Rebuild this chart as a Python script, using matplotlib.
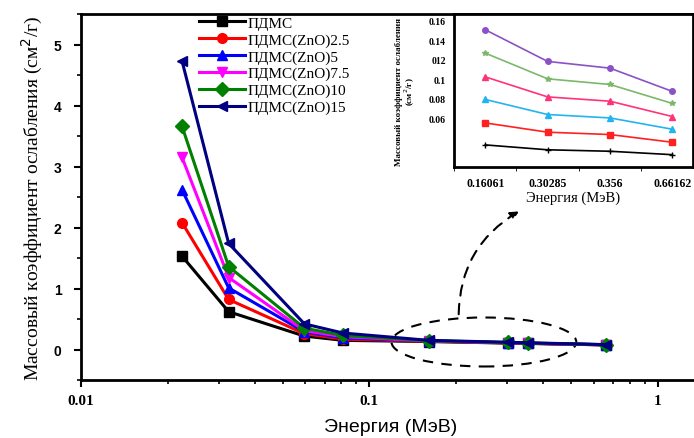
import matplotlib
matplotlib.use("Agg")
import matplotlib.pyplot as plt
from matplotlib.patches import Ellipse
from matplotlib.ticker import FixedLocator, MultipleLocator, NullFormatter, LogLocator


# main chart data
energy = [0.0224, 0.0325, 0.0595, 0.081, 0.16061, 0.30285, 0.356, 0.66162]
pdms = [1.53, 0.62, 0.22, 0.15, 0.13, 0.105, 0.10, 0.075]
zno_2_5 = [2.08, 0.82, 0.26, 0.17, 0.135, 0.107, 0.10, 0.076]
zno_5 = [2.62, 1.01, 0.29, 0.19, 0.14, 0.11, 0.102, 0.077]
zno_7_5 = [3.15, 1.18, 0.31, 0.21, 0.14, 0.112, 0.104, 0.078]
zno_10 = [3.66, 1.36, 0.35, 0.23, 0.145, 0.115, 0.106, 0.079]
zno_15 = [4.73, 1.74, 0.42, 0.27, 0.15, 0.118, 0.11, 0.08]

labels = ["ПДМС", "ПДМС(ZnO)2.5", "ПДМС(ZnO)5",
          "ПДМС(ZnO)7.5", "ПДМС(ZnO)10", "ПДМС(ZnO)15"]

# inset data (values at the four higher energies)
inset_energy = ["0.16061", "0.30285", "0.356", "0.66162"]
inset_pdms = [0.033, 0.028, 0.0265, 0.023]
inset_2_5 = [0.0555, 0.046, 0.0436, 0.0357]
inset_5 = [0.0795, 0.0641, 0.0606, 0.049]
inset_7_5 = [0.1026, 0.0821, 0.0777, 0.062]
inset_10 = [0.1269, 0.1006, 0.0948, 0.0754]
inset_15 = [0.1508, 0.1184, 0.1115, 0.0877]
inset_yticks = [0.06, 0.08, 0.1, 0.12, 0.14, 0.16]
inset_yticklabels = ["0.06", "0.08", "0.1", "012", "0.14", "0.16"]

W, H = 694, 439
fig = plt.figure(figsize=(W / 100, H / 100), dpi=100)


def px_axes(left, top, right, bottom):
    return [left / W, 1 - bottom / H, (right - left) / W, (bottom - top) / H]


ax = fig.add_axes(px_axes(81, 15, 700, 381))

series = [pdms, zno_2_5, zno_5, zno_7_5, zno_10, zno_15]
colors = ["black", "#ff0000", "#0000ff", "#ff00ff", "#008000", "#000080"]
markers = ["s", "o", "^", "v", "D", "<"]
for vals, c, m, lab in zip(series, colors, markers, labels):
    ax.plot(energy, vals, color=c, marker=m, markersize=7, linewidth=2.2, label=lab)

ax.set_xscale("log")
ax.set_xlim(0.01, 1.4)
ax.set_ylim(-0.5, 5.5)
ax.xaxis.set_major_locator(FixedLocator([0.01, 0.1, 1]))
ax.set_xticklabels(["0.01", "0.1", "1"], fontfamily="Liberation Serif",
                   fontweight="bold", fontsize=11)
ax.xaxis.set_minor_locator(LogLocator(base=10, subs=range(2, 10)))
ax.xaxis.set_minor_formatter(NullFormatter())
ax.yaxis.set_major_locator(MultipleLocator(1))
ax.yaxis.set_minor_locator(MultipleLocator(0.5))
for t in ax.get_yticklabels():
    t.set_fontweight("bold")
    t.set_fontfamily("Liberation Sans")
    t.set_fontsize(10)
ax.tick_params(which="major", direction="out", length=5, width=1.5)
ax.tick_params(which="minor", direction="out", length=3, width=1.2)
ax.tick_params(axis="y", pad=9)
ax.tick_params(axis="x", pad=5)
for side in ["left", "bottom", "top"]:
    ax.spines[side].set_linewidth(2)
ax.spines["right"].set_visible(False)

ax.set_xlabel("Энергия (МэВ)", fontfamily="Liberation Sans", fontsize=14, labelpad=8)
ax.set_ylabel("Массовый коэффициент ослабления (см$^2$/г)",
              fontfamily="Liberation Serif", fontsize=14, labelpad=6)

ax.legend(loc="upper left", bbox_to_anchor=(199 / W, 1 - 17 / H),
          bbox_transform=fig.transFigure, frameon=False,
          prop={"family": "Liberation Serif", "size": 11},
          labelspacing=0.2, handlelength=3.0, handletextpad=0.15,
          borderpad=0, borderaxespad=0)

# dashed ellipse around the high-energy points and arrow to the inset
ax.add_patch(Ellipse(((480 - 81) / 613, (381 - 343) / 366), 183 / 613, 49 / 366,
                     transform=ax.transAxes, fill=False, linestyle=(0, (5, 4)),
                     linewidth=1.5, edgecolor="black"))
ax.annotate("", xy=((517 - 81) / 613, (381 - 211) / 366),
            xytext=((455 - 81) / 613, (381 - 318) / 366),
            xycoords="axes fraction", textcoords="axes fraction",
            arrowprops=dict(arrowstyle="-|>", linestyle=(0, (5, 4)), linewidth=1.5,
                            color="black", connectionstyle="angle3,angleA=90,angleB=30",
                            mutation_scale=12))

# inset
ins = fig.add_axes(px_axes(454, 15, 693, 168))
ins.set_facecolor("white")
x_idx = list(range(len(inset_energy)))
inset_series = [inset_pdms, inset_2_5, inset_5, inset_7_5, inset_10, inset_15]
inset_colors = ["black", "#ff2020", "#22b4f0", "#ff3377", "#7cb86a", "#8a52c6"]
inset_markers = ["+", "s", "^", "^", "*", "o"]
for vals, c, m in zip(inset_series, inset_colors, inset_markers):
    ins.plot(x_idx, vals, color=c, marker=m, markersize=4, linewidth=1.2)

ins.set_xlim(-0.48, 3.33)
ins.set_ylim(0.0104, 0.1669)
ins.set_xticks(x_idx)
ins.set_xticklabels(inset_energy, fontfamily="Liberation Serif",
                    fontweight="bold", fontsize=8.5)
ins.set_xticks([-0.5, 0.5, 1.5, 2.5], minor=True)
ins.tick_params(axis="x", which="major", length=0, pad=7)
ins.tick_params(axis="x", which="minor", length=3, direction="out")
ins.set_yticks(inset_yticks)
ins.set_yticklabels(inset_yticklabels, fontfamily="Liberation Serif",
                    fontweight="bold", fontsize=7)
ins.tick_params(axis="y", length=0, pad=6)
for side in ins.spines:
    ins.spines[side].set_linewidth(2)
ins.set_xlabel("Энергия (МэВ)", fontfamily="Liberation Serif", fontsize=10.5, labelpad=1)
ins.set_ylabel("Массовый коэффициент ослабления\n(см$^2$/г)",
               fontfamily="Liberation Serif", fontweight="bold", fontsize=6.5,
               labelpad=8, linespacing=1.0)

fig.savefig("out.png", dpi=100)
